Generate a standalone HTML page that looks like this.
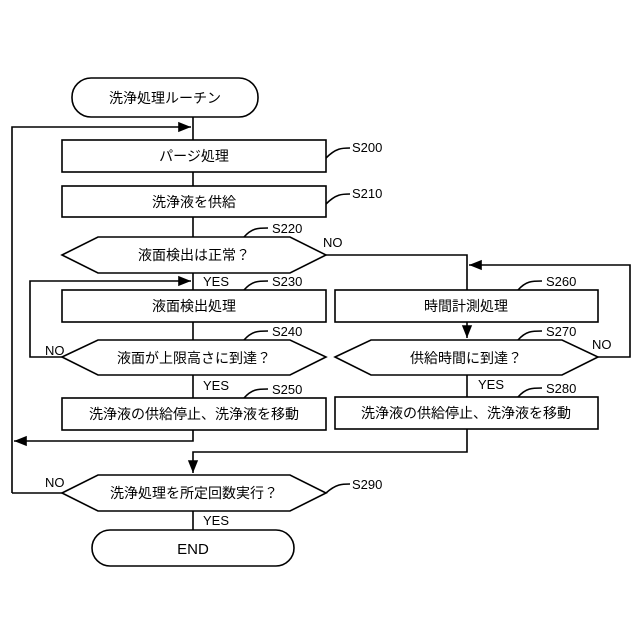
<!DOCTYPE html>
<html><head><meta charset="utf-8"><style>body{margin:0;background:#fff}svg{display:block}text{font-family:"Liberation Sans","Noto Sans CJK JP",sans-serif;fill:#000}</style></head><body>
<svg width="640" height="640" viewBox="0 0 640 640" xmlns="http://www.w3.org/2000/svg">
<defs><marker id="a" viewBox="0 0 10 10" refX="10" refY="5" markerWidth="8" markerHeight="8" orient="auto"><path d="M0,1L10,5L0,9z" fill="#000"/></marker></defs>
<g fill="none" stroke="#000" stroke-width="1.6">
<rect x="72" y="78" width="186" height="39" rx="19"/>
<rect x="62" y="140" width="264" height="32"/>
<rect x="62" y="186" width="264" height="31"/>
<polygon points="62,255 98,237 290,237 326,255 290,273 98,273"/>
<rect x="62" y="290" width="264" height="32"/>
<rect x="335" y="290" width="263" height="32"/>
<polygon points="62,357 98,340 290,340 326,357 290,375 98,375"/>
<polygon points="335,357 371,340 562,340 598,357 562,375 371,375"/>
<rect x="62" y="398" width="264" height="32"/>
<rect x="335" y="397" width="263" height="32"/>
<polygon points="62,493 98,475 290,475 326,493 290,511 98,511"/>
<rect x="92" y="530" width="202" height="36" rx="18"/>
<path d="M193,117V140M193,172V186M193,217V237M193,273V290M193,322V340M193,375V398"/>
<path d="M12,493V127H191" marker-end="url(#a)"/>
<path d="M62,357H30V281H191" marker-end="url(#a)"/>
<path d="M326,255H467V290"/>
<path d="M598,357H630V265H469" marker-end="url(#a)"/>
<path d="M467,322V338" marker-end="url(#a)"/>
<path d="M467,375V397"/>
<path d="M193,430V441H14" marker-end="url(#a)"/>
<path d="M467,429V452H193V473" marker-end="url(#a)"/>
<path d="M62,493H12"/>
<path d="M193,511V530"/>
<path d="M326,158C336,148 342,148 350,148M326,204C336,194 342,194 350,194M244,237C252,228 258,228 268,228M244,290C252,281 258,281 268,281M518,290C526,281 532,281 542,281M244,340C252,331 258,331 268,331M518,340C526,331 532,331 542,331M244,398C252,389 258,389 268,389M518,397C526,388 532,388 542,388M326,493C336,484 342,484 350,484"/>
</g>
<g font-size="14" text-anchor="middle">
<text x="165" y="103">洗浄処理ルーチン</text>
<text x="194" y="161">パージ処理</text>
<text x="194" y="207">洗浄液を供給</text>
<text x="194" y="260">液面検出は正常？</text>
<text x="194" y="311">液面検出処理</text>
<text x="466" y="311">時間計測処理</text>
<text x="194" y="363">液面が上限高さに到達？</text>
<text x="466" y="363">供給時間に到達？</text>
<text x="194" y="419">洗浄液の供給停止、洗浄液を移動</text>
<text x="466" y="418">洗浄液の供給停止、洗浄液を移動</text>
<text x="194" y="498">洗浄処理を所定回数実行？</text>
<text x="193" y="554" font-size="15">END</text>
</g>
<g font-size="13">
<text x="352" y="152">S200</text>
<text x="352" y="198">S210</text>
<text x="272" y="233">S220</text>
<text x="272" y="286">S230</text>
<text x="546" y="286">S260</text>
<text x="272" y="336">S240</text>
<text x="546" y="336">S270</text>
<text x="272" y="394">S250</text>
<text x="546" y="393">S280</text>
<text x="352" y="489">S290</text>
<text x="323" y="247">NO</text>
<text x="203" y="286">YES</text>
<text x="45" y="355">NO</text>
<text x="592" y="349">NO</text>
<text x="203" y="390">YES</text>
<text x="478" y="389">YES</text>
<text x="45" y="487">NO</text>
<text x="203" y="525">YES</text>
</g>
</svg>
</body></html>
